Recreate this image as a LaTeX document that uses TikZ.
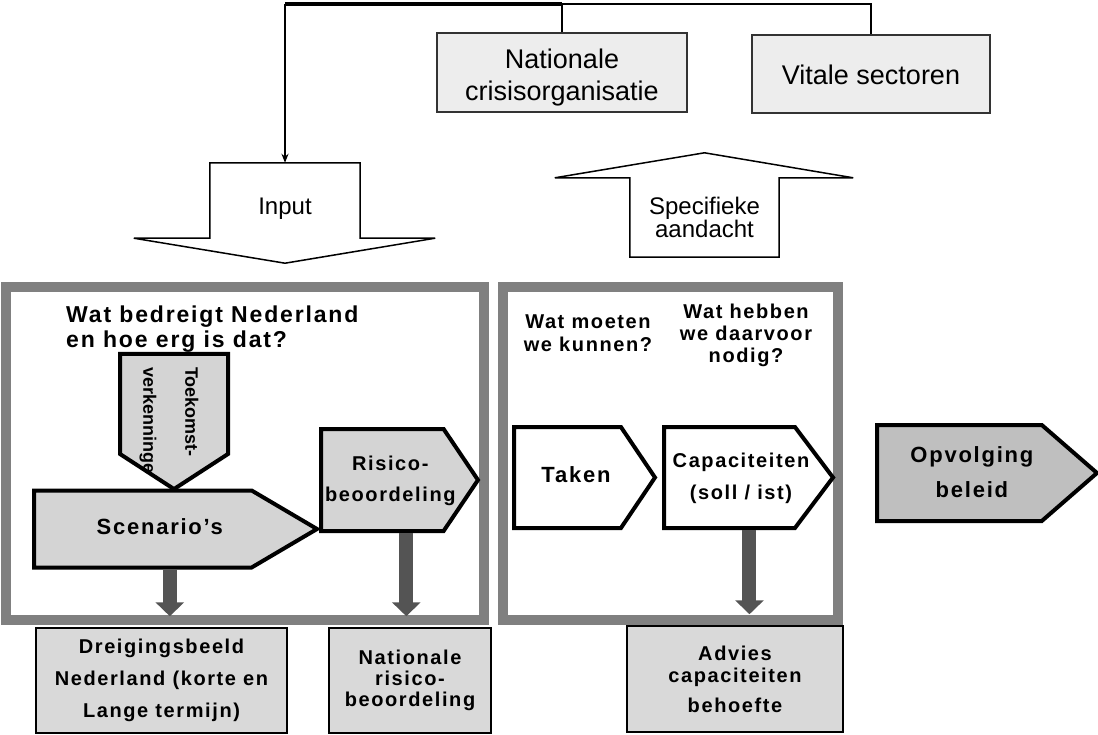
\documentclass[tikz,border=0pt]{standalone}
\usepackage{fontspec}
\setmainfont{Liberation Sans}
\newfontfamily\wfont[LetterSpace=8]{Liberation Sans}
\usetikzlibrary{shapes,arrows.meta,positioning}

% text of a step, pushed right by half of #1, not widening the shape
\newcommand\steptext[2]{\makebox[0pt]{\hspace*{#1}\begin{tabular}{@{}c@{}}#2\end{tabular}}}

\tikzset{
  topbox/.style={draw=black!80, line width=1.2pt, fill=black!7, align=center, inner sep=0pt, font=\fontsize{27}{32}\selectfont},
  outbox/.style={draw=black, line width=1.5pt, fill=black!15, align=center, inner sep=0pt, minimum height=105pt},
  pent/.style={signal, signal to=east, draw=black, line width=4pt, fill=black!17, inner sep=0pt, font=\wfont\bfseries\fontsize{20}{31}\selectfont},
  frame/.style={draw=black!50, line width=10pt},
  garrow/.style={draw=black!67, line width=14pt, -{Triangle[width=28pt,length=14pt]}, shorten >=11pt},
  bigarrow/.style={draw=black, line width=1.5pt},
  quest/.style={align=center, inner sep=0pt, font=\wfont\bfseries\fontsize{20}{22}\selectfont},
}

\begin{document}
\begin{tikzpicture}[x=1pt,y=-1pt]
\useasboundingbox (0,0) rectangle (1098,735);

% Frames
\draw[frame] (5.5,287) rectangle (484,620);
\draw[frame] (503,287) rectangle (838,620);

% Top boxes
\node[topbox, minimum width=250pt, minimum height=79pt, text height=62pt] (nco) at (562,72.5) {Nationale\\crisisorganisatie};
\node[topbox, minimum width=238pt, minimum height=78pt, text height=22pt] (vit) at (871,74) {Vitale sectoren};

% Big arrows
\node[minimum width=150pt, minimum height=75pt, inner sep=0pt, text height=33pt, font=\fontsize{24}{28}\selectfont] (input) at (285,200.5) {Input};
\node[minimum width=149pt, minimum height=79pt, inner sep=0pt, align=center, font=\fontsize{24}{23}\selectfont] (spec) at (704.5,217.5) {Specifieke\\aandacht};
\draw[bigarrow] (input.north west) -- (input.north east) -- (input.south east) -- ([xshift=75pt]input.south east)
  -- ([yshift=-25pt]input.south) -- ([xshift=-76pt]input.south west) -- (input.south west) -- cycle;
\draw[bigarrow] (spec.south west) -- (spec.south east) -- (spec.north east) -- ([xshift=74pt]spec.north east)
  -- ([yshift=25pt]spec.north) -- ([xshift=-75pt]spec.north west) -- (spec.north west) -- cycle;

% Lines on top
\coordinate (hub) at (285,4);
\draw[line width=2pt] (vit.north) |- (hub);
\draw[line width=2pt] (nco.north) |- (hub);
\draw[line width=3.5pt] (hub) -- (hub -| nco.north);
\draw[line width=1.5pt, -{Stealth[length=9pt,width=7pt]}] (hub) -- (input.north);

% Questions
\node[quest, anchor=west, align=left, font=\wfont\bfseries\fontsize{23}{25}\selectfont] (q1) at (66,329.5) {Wat bedreigt Nederland\\en hoe erg is dat?};
\node[quest, font=\wfont\bfseries\fontsize{20}{23}\selectfont] (q2) at (588,333) {Wat moeten\\we kunnen?};
\node[quest] (q3) at (746,335) {Wat hebben\\we daarvoor\\nodig?};

% Steps
\node[pent, anchor=west, minimum width=283pt, minimum height=77pt, signal pointer angle=61, font=\wfont\bfseries\fontsize{22}{25}\selectfont] (scen) at (32,529) {\steptext{34pt}{Scenario’s}};
\node[pent, anchor=west, minimum width=157pt, minimum height=102pt, signal pointer angle=112] (risk) at (319,480) {\steptext{16pt}{Risico-\\beoordeling}};
\node[pent, signal to=south, anchor=north, minimum width=108pt, minimum height=100pt, signal pointer angle=114,
  path picture={\node[rotate=-90, anchor=west, align=left, inner sep=0pt, font=\bfseries\fontsize{18}{42}\selectfont]
    at ([xshift=-5pt,yshift=-11pt]path picture bounding box.north) {Toekomst-\\verkenningen};}] (toek) at (174,352) {};
\node[pent, fill=white, anchor=west, minimum width=141pt, minimum height=101pt, signal pointer angle=112, font=\wfont\bfseries\fontsize{22}{26}\selectfont] (taken) at (512,477.5) {\steptext{17pt}{Taken}};
\node[pent, fill=white, anchor=west, minimum width=169pt, minimum height=101pt, signal pointer angle=106, font=\wfont\bfseries\fontsize{20}{32}\selectfont] (capa) at (662,477.5) {\steptext{23pt}{Capaciteiten\\(soll / ist)}};
\node[pent, fill=black!25, anchor=west, minimum width=220pt, minimum height=96pt, signal pointer angle=82, font=\wfont\bfseries\fontsize{22}{35}\selectfont] (opv) at (875,473) {\steptext{25pt}{Opvolging\\beleid}};

% Results
\node[outbox, minimum width=251pt, font=\wfont\bfseries\fontsize{20}{32}\selectfont] (dreig) at (161.5,680.5) {Dreigingsbeeld\\Nederland (korte en\\Lange termijn)};
\node[outbox, minimum width=162pt, font=\wfont\bfseries\fontsize{20}{21}\selectfont] (nrb) at (410,680.5) {Nationale\\risico-\\beoordeling};
\node[outbox, minimum width=216pt, minimum height=106pt, font=\wfont\bfseries\fontsize{20}{22}\selectfont] (adv) at (735,679) {Advies\\capaciteiten\\[8pt]behoefte};

% Arrows down
\draw[garrow] ([xshift=27pt]scen.south) -- ([xshift=27pt]scen.south |- dreig.north);
\draw[garrow] ([xshift=24pt]risk.south) -- ([xshift=24pt]risk.south |- nrb.north);
\draw[garrow] ([xshift=20pt]capa.south) -- ([xshift=20pt]capa.south |- adv.north);
\end{tikzpicture}
\end{document}
